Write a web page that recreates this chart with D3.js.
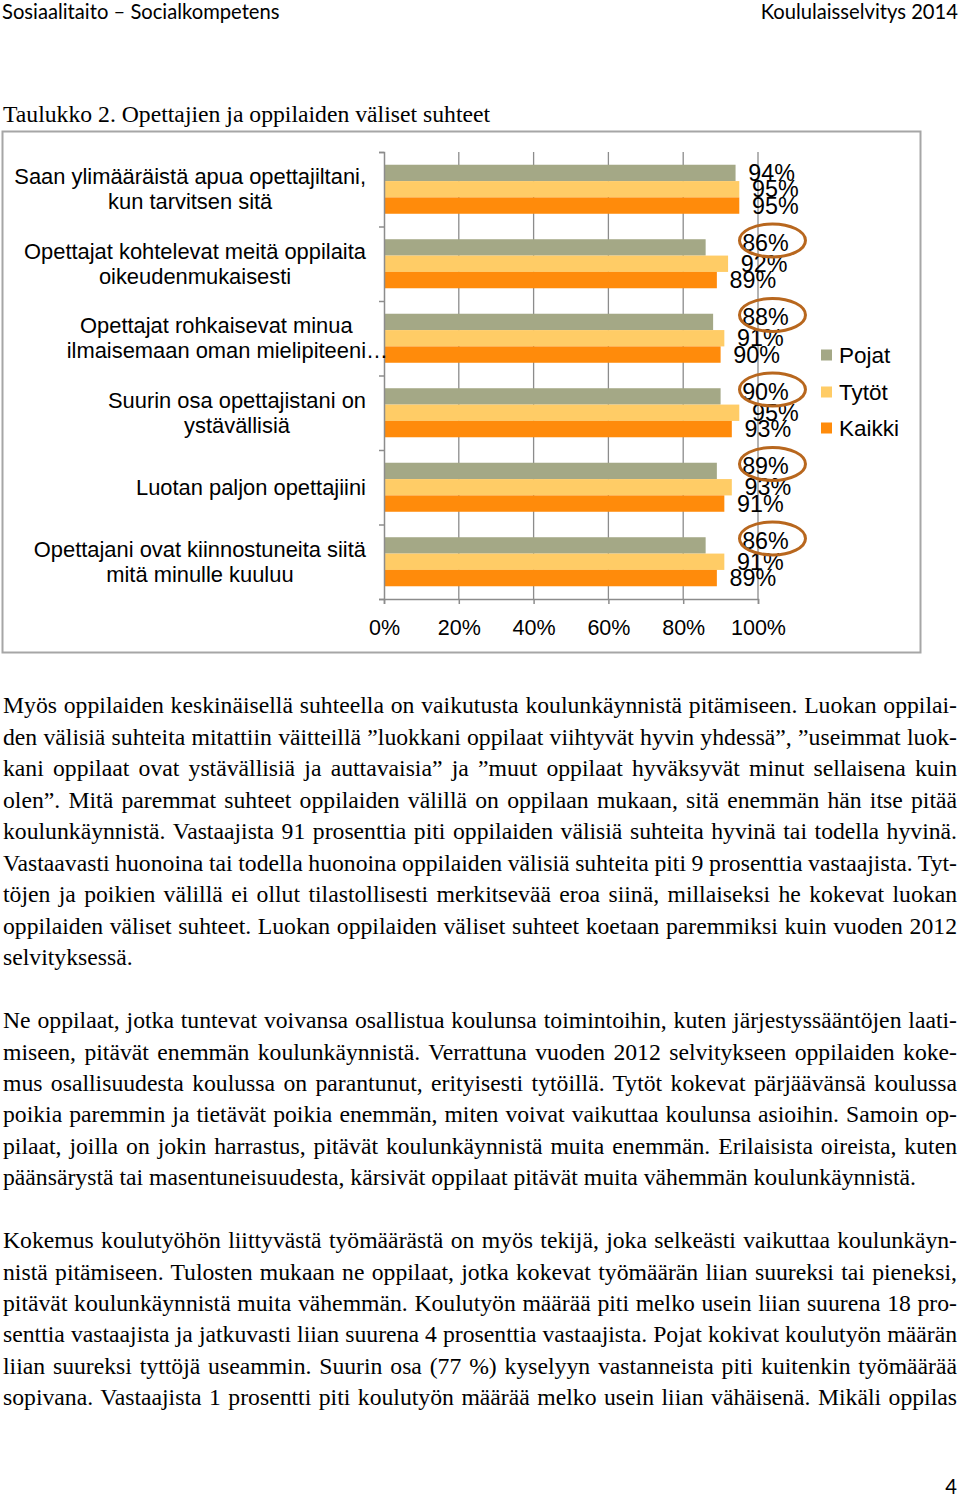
<!DOCTYPE html>
<html><head><meta charset="utf-8">
<script src="https://cdn.jsdelivr.net/npm/d3@7"></script>
<style>body{margin:0;background:#fff} svg{display:block}</style>
</head><body>
<script>
// ---------- data ----------
const categories = [
  "Saan ylimääräistä apua opettajiltani, kun tarvitsen sitä",
  "Opettajat kohtelevat meitä oppilaita oikeudenmukaisesti",
  "Opettajat rohkaisevat minua ilmaisemaan oman mielipiteeni…",
  "Suurin osa opettajistani on ystävällisiä",
  "Luotan paljon opettajiini",
  "Opettajani ovat kiinnostuneita siitä mitä minulle kuuluu"
];
const categoryLines = [
  ["Saan ylimääräistä apua opettajiltani,", "kun tarvitsen sitä"],
  ["Opettajat kohtelevat meitä oppilaita", "oikeudenmukaisesti"],
  ["Opettajat rohkaisevat minua", "ilmaisemaan oman mielipiteeni…"],
  ["Suurin osa opettajistani on", "ystävällisiä"],
  ["Luotan paljon opettajiini"],
  ["Opettajani ovat kiinnostuneita siitä", "mitä minulle kuuluu"]
];
const seriesNames = ["Pojat", "Tytöt", "Kaikki"];
const pojat  = [94, 86, 88, 90, 89, 86];
const tytot  = [95, 92, 91, 95, 93, 91];
const kaikki = [95, 89, 90, 93, 91, 89];
const circledPojat = [false, true, true, true, true, true];
const xTicks = [0, 20, 40, 60, 80, 100];

const headerLeft = "Sosiaalitaito – Socialkompetens";
const headerRight = "Koululaisselvitys 2014";
const tableTitle = "Taulukko 2. Opettajien ja oppilaiden väliset suhteet";
const para1 = [
  "Myös oppilaiden keskinäisellä suhteella on vaikutusta koulunkäynnistä pitämiseen. Luokan oppilai-",
  "den välisiä suhteita mitattiin väitteillä ”luokkani oppilaat viihtyvät hyvin yhdessä”, ”useimmat luok-",
  "kani oppilaat ovat ystävällisiä ja auttavaisia” ja ”muut oppilaat hyväksyvät minut sellaisena kuin",
  "olen”. Mitä paremmat suhteet oppilaiden välillä on oppilaan mukaan, sitä enemmän hän itse pitää",
  "koulunkäynnistä. Vastaajista 91 prosenttia piti oppilaiden välisiä suhteita hyvinä tai todella hyvinä.",
  "Vastaavasti huonoina tai todella huonoina oppilaiden välisiä suhteita piti 9 prosenttia vastaajista. Tyt-",
  "töjen ja poikien välillä ei ollut tilastollisesti merkitsevää eroa siinä, millaiseksi he kokevat luokan",
  "oppilaiden väliset suhteet. Luokan oppilaiden väliset suhteet koetaan paremmiksi kuin vuoden 2012",
  "selvityksessä."
];
const para2 = [
  "Ne oppilaat, jotka tuntevat voivansa osallistua koulunsa toimintoihin, kuten järjestyssääntöjen laati-",
  "miseen, pitävät enemmän koulunkäynnistä. Verrattuna vuoden 2012 selvitykseen oppilaiden koke-",
  "mus osallisuudesta koulussa on parantunut, erityisesti tytöillä. Tytöt kokevat pärjäävänsä koulussa",
  "poikia paremmin ja tietävät poikia enemmän, miten voivat vaikuttaa koulunsa asioihin. Samoin op-",
  "pilaat, joilla on jokin harrastus, pitävät koulunkäynnistä muita enemmän. Erilaisista oireista, kuten",
  "päänsärystä tai masentuneisuudesta, kärsivät oppilaat pitävät muita vähemmän koulunkäynnistä."
];
const para3 = [
  "Kokemus koulutyöhön liittyvästä työmäärästä on myös tekijä, joka selkeästi vaikuttaa koulunkäyn-",
  "nistä pitämiseen. Tulosten mukaan ne oppilaat, jotka kokevat työmäärän liian suureksi tai pieneksi,",
  "pitävät koulunkäynnistä muita vähemmän. Koulutyön määrää piti melko usein liian suurena 18 pro-",
  "senttia vastaajista ja jatkuvasti liian suurena 4 prosenttia vastaajista. Pojat kokivat koulutyön määrän",
  "liian suureksi tyttöjä useammin. Suurin osa (77 %) kyselyyn vastanneista piti kuitenkin työmäärää",
  "sopivana. Vastaajista 1 prosentti piti koulutyön määrää melko usein liian vähäisenä. Mikäli oppilas"
];
const pageNumber = "4";

// ---------- drawing ----------
const colors = ["#A4A886", "#FFCC66", "#FF8B0B"];
const W = 960, H = 1497;
const svg = d3.select("body").append("svg").attr("width", W).attr("height", H)
  .style("background", "#fff");

const sans = "'Liberation Sans', Arial, sans-serif";
const serif = "'Liberation Serif', 'Times New Roman', serif";
const calibri = "Lato, 'Open Sans', sans-serif";
const serifSize = 23.7;

// header
svg.append("text").attr("x", 2).attr("y", 19).attr("font-family", calibri)
  .attr("font-size", 20.2).attr("fill", "#000").text(headerLeft);
svg.append("text").attr("x", 958).attr("y", 19).attr("text-anchor", "end").attr("font-family", calibri)
  .attr("font-size", 20.2).attr("fill", "#000").text(headerRight);
svg.append("text").attr("x", 3).attr("y", 114).attr("dy", "0.35em").attr("font-family", serif)
  .attr("font-size", serifSize).attr("fill", "#000").text(tableTitle);

// chart frame
svg.append("rect").attr("x", 2.5).attr("y", 131.5).attr("width", 918).attr("height", 521)
  .attr("fill", "#fff").attr("stroke", "#A6A6A6").attr("stroke-width", 2);

const x = d3.scaleLinear().domain([0, 100]).range([384, 758]);
const plotTop = 152, plotBottom = 599;
const p = 0.342;
const y = d3.scaleBand().domain(categories).range([plotTop, plotBottom])
  .paddingInner(p).paddingOuter(p / 2);
const ySub = d3.scaleBand().domain(seriesNames).range([0, y.bandwidth()]);
const yEdges = d3.scaleLinear().domain([0, categories.length]).range([plotTop, plotBottom]);

const g = svg.append("g");

// gridlines
g.selectAll("line.grid").data(xTicks.filter(d => d > 0)).join("line")
  .attr("class", "grid")
  .attr("x1", d => x(d)).attr("x2", d => x(d))
  .attr("y1", plotTop).attr("y2", plotBottom)
  .attr("stroke", "#8C8C8C").attr("stroke-width", 1.3);

// bars
const seriesData = [pojat, tytot, kaikki];
seriesNames.forEach((s, si) => {
  g.selectAll("rect.s" + si).data(categories).join("rect")
    .attr("class", "s" + si)
    .attr("x", x(0))
    .attr("y", c => y(c) + ySub(s))
    .attr("width", (c, i) => x(seriesData[si][i]) - x(0))
    .attr("height", ySub.bandwidth())
    .attr("fill", colors[si]);
});

// axes
const axisColor = "#8C8C8C";
const xAxis = g.append("g").attr("transform", `translate(0,${plotBottom})`)
  .call(d3.axisBottom(x).tickValues(xTicks).tickSize(5).tickPadding(16).tickFormat(d => d + "%"));
xAxis.select(".domain").attr("stroke", axisColor).attr("stroke-width", 1.5);
xAxis.selectAll(".tick line").attr("stroke", axisColor).attr("stroke-width", 1.5);
xAxis.selectAll(".tick text").attr("font-family", sans).attr("font-size", 21.5).attr("fill", "#000");

const yAxis = g.append("g").attr("transform", `translate(${x(0)},0)`)
  .call(d3.axisLeft(yEdges).tickValues(d3.range(categories.length + 1)).tickSize(5).tickFormat(""));
yAxis.select(".domain").attr("stroke", axisColor).attr("stroke-width", 1.5);
yAxis.selectAll(".tick line").attr("stroke", axisColor).attr("stroke-width", 1.5);

// category labels (lines centered in a block right-aligned at 366)
const catRight = 366, lineH = 25, catSize = 21.9;
categories.forEach((c, i) => {
  const lines = categoryLines[i];
  const cy = y(c) + y.bandwidth() / 2;
  const tmp = lines.map(l => {
    const t = svg.append("text").attr("font-family", sans).attr("font-size", catSize)
      .text(l.replace("…", ""));
    const w = t.node().getComputedTextLength();
    t.remove();
    return w;
  });
  const maxW = d3.max(tmp);
  const cx = catRight - maxW / 2;
  lines.forEach((l, li) => {
    g.append("text")
      .attr("x", cx - tmp[li] / 2)
      .attr("y", cy + (li - (lines.length - 1) / 2) * lineH)
      .attr("dy", "0.35em")
      .attr("font-family", sans).attr("font-size", catSize).attr("fill", "#000")
      .text(l);
  });
});

// value labels
const labelFont = 23.3;
seriesNames.forEach((s, si) => {
  categories.forEach((c, i) => {
    const v = seriesData[si][i];
    const barMid = y(c) + ySub(s) + ySub.bandwidth() / 2;
    let lx = x(v) + 36, ly = barMid;
    if (si === 0 && circledPojat[i]) { lx = x(102); ly = barMid - 5; }
    g.append("text").attr("x", lx).attr("y", ly).attr("dy", "0.35em")
      .attr("text-anchor", "middle").attr("font-family", sans)
      .attr("font-size", labelFont).attr("fill", "#000").text(v + "%");
  });
});
// highlight ellipses
categories.forEach((c, i) => {
  if (!circledPojat[i]) return;
  const barMid = y(c) + ySub("Pojat") + ySub.bandwidth() / 2;
  g.append("ellipse").attr("cx", x(102) + 7).attr("cy", barMid - 7)
    .attr("rx", 33).attr("ry", 16.5)
    .attr("fill", "none").attr("stroke", "#B8671E").attr("stroke-width", 3);
});

// legend
const legY = [355, 392, 428];
seriesNames.forEach((s, si) => {
  svg.append("rect").attr("x", 821).attr("y", legY[si] - 5.5).attr("width", 11).attr("height", 11)
    .attr("fill", colors[si]);
  svg.append("text").attr("x", 839).attr("y", legY[si]).attr("dy", "0.35em")
    .attr("font-family", sans).attr("font-size", 22.5).attr("fill", "#000").text(s);
});

// body paragraphs (justified)
function paragraph(lines, y0, step, justifyLast) {
  lines.forEach((l, i) => {
    const t = svg.append("text").attr("x", 3).attr("y", y0 + i * step).attr("dy", "0.35em")
      .attr("font-family", serif).attr("font-size", serifSize).attr("fill", "#000").text(l);
    const isLast = i === lines.length - 1;
    if (!isLast || justifyLast) {
      const w = t.node().getComputedTextLength();
      const spaces = (l.match(/ /g) || []).length;
      if (spaces > 0) t.attr("word-spacing", (954 - w) / spaces);
    }
  });
}
paragraph(para1, 705, 31.5, false);
paragraph(para2, 1020, 31.4, false);
paragraph(para3, 1240, 31.4, true);

svg.append("text").attr("x", 957).attr("y", 1487).attr("dy", "0.35em").attr("text-anchor", "end")
  .attr("font-family", calibri).attr("font-size", 20.2).attr("fill", "#000").text(pageNumber);
</script>
</body></html>
